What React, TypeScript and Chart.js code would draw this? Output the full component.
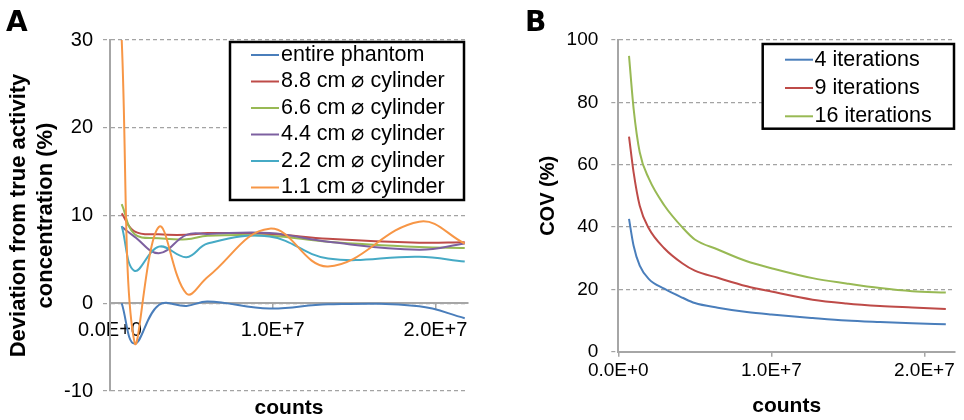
import React, { useEffect, useRef } from 'react';
import { Chart, registerables } from 'chart.js';

Chart.register(...registerables);

const FONT = "'Liberation Sans', Arial, Helvetica, sans-serif";
const LETTER_FONT = "'DejaVu Sans', 'Liberation Sans', Arial, sans-serif";

// ---------- Panel A data ----------
const countsA = [0.072e7, 0.15e7, 0.3e7, 0.47e7, 0.6e7, 0.98e7, 1.34e7, 1.9e7, 2.18e7];
const labelsA = [
  'entire phantom',
  '8.8 cm \u2300 cylinder',
  '6.6 cm \u2300 cylinder',
  '4.4 cm \u2300 cylinder',
  '2.2 cm \u2300 cylinder',
  '1.1 cm \u2300 cylinder',
];
const entirePhantom = [0, -4.6, -0.2, -0.3, 0.2, -0.6, -0.1, -0.35, -1.7];
const cyl88 = [10.25, 8.2, 7.85, 7.8, 8.0, 7.9, 7.35, 6.9, 6.95];
const cyl66 = [11.3, 7.9, 7.4, 7.3, 7.7, 7.7, 7.0, 6.4, 6.3];
const cyl44 = [8.7, 7.6, 5.7, 7.8, 7.9, 8.0, 7.0, 6.1, 6.8];
const cyl22 = [8.8, 3.7, 6.45, 5.25, 6.8, 7.6, 5.1, 5.3, 4.75];
const cyl11 = [30, -4.4, 8.7, 1.1, 3.0, 8.5, 4.2, 9.3, 6.8];
const seriesA = [entirePhantom, cyl88, cyl66, cyl44, cyl22, cyl11];
const colorsA = ['#4A7EBB', '#BE4B48', '#98B954', '#7D60A0', '#46AAC5', '#F79646'];
const yTitleA = ['Deviation from true activity', 'concentration (%)'];

// ---------- Panel B data ----------
const countsB = [0.07e7, 0.1e7, 0.14e7, 0.2e7, 0.3e7, 0.42e7, 0.5e7, 0.65e7, 0.84e7, 1.0e7, 1.27e7, 1.49e7, 1.71e7, 1.92e7, 2.14e7];
const labelsB = ['4 iterations', '9 iterations', '16 iterations'];
const iter4 = [42.6, 34, 27.6, 23.3, 20.2, 17.3, 15.6, 14.1, 12.7, 11.9, 10.8, 10.0, 9.5, 9.1, 8.8];
const iter9 = [69.0, 57.5, 46.8, 39.5, 33.2, 28.3, 26.0, 23.7, 21.0, 19.3, 16.7, 15.5, 14.7, 14.2, 13.7];
const iter16 = [94.9, 78, 64, 55.5, 47, 39.8, 36, 32.8, 29.0, 26.8, 23.6, 21.9, 20.4, 19.4, 19.0];
const seriesB = [iter4, iter9, iter16];
const colorsB = ['#4A7EBB', '#BE4B48', '#98B954'];
const yTitleB = 'COV (%)';

// ---------- shared axis ticks ----------
const xTickValues = [0, 1e7, 2e7];
const xTickLabels = ['0.0E+0', '1.0E+7', '2.0E+7'];
const xTitle = 'counts';

const GRID = '#a3a3a3';
const AXIS = '#a6a6a6';

const boxLegendPlugin = {
  id: 'boxLegend',
  afterDatasetsDraw(chart: any, _args: any, o: any) {
    if (!o || !o.show) return;
    const ctx = chart.ctx;
    ctx.save();
    ctx.fillStyle = '#ffffff';
    ctx.fillRect(o.left, o.top, o.right - o.left, o.bottom - o.top);
    ctx.lineWidth = o.borderWidth;
    ctx.strokeStyle = '#000000';
    ctx.strokeRect(o.left, o.top, o.right - o.left, o.bottom - o.top);
    ctx.font = `${o.fontSize}px ${FONT}`;
    ctx.textBaseline = 'middle';
    ctx.textAlign = 'left';
    chart.data.datasets.forEach((ds: any, i: number) => {
      const y = o.rowTop + i * o.rowPitch;
      ctx.strokeStyle = ds.borderColor;
      ctx.lineWidth = 2;
      ctx.beginPath();
      ctx.moveTo(o.lineX1, y);
      ctx.lineTo(o.lineX2, y);
      ctx.stroke();
      ctx.fillStyle = '#000000';
      ctx.fillText(ds.label, o.textX, y);
    });
    ctx.restore();
  },
};

const textPlugin = {
  id: 'panelText',
  afterDraw(chart: any, _args: any, o: any) {
    if (!o || !o.items) return;
    const ctx = chart.ctx;
    ctx.save();
    o.items.forEach((it: any) => {
      ctx.font = it.font;
      ctx.fillStyle = '#000000';
      ctx.textAlign = it.align || 'left';
      ctx.textBaseline = it.baseline || 'alphabetic';
      ctx.fillText(it.text, it.x, it.y);
    });
    ctx.restore();
  },
};

const xTickCallback = (v: any) => {
  const i = xTickValues.indexOf(Number(v));
  return i >= 0 ? xTickLabels[i] : '';
};

function makeDatasets(series: number[][], counts: number[], labels: string[], colors: string[], mode: string) {
  return series.map((vals, i) => ({
    label: labels[i],
    data: vals.map((v, j) => ({ x: counts[j], y: v })),
    borderColor: colors[i],
    backgroundColor: colors[i],
    borderWidth: 2,
    pointRadius: 0,
    fill: false,
    tension: 0.4,
    cubicInterpolationMode: mode,
    order: -i,
  }));
}

export default function App() {
  const refA = useRef<HTMLCanvasElement>(null);
  const refB = useRef<HTMLCanvasElement>(null);

  useEffect(() => {
    const chartA = new Chart(refA.current as HTMLCanvasElement, {
      type: 'line',
      data: { datasets: makeDatasets(seriesA, countsA, labelsA, colorsA, 'default') as any },
      plugins: [boxLegendPlugin, textPlugin],
      options: {
        animation: false,
        responsive: false,
        events: [],
        layout: { padding: { left: 0, top: 40, right: 12, bottom: 29 } },
        scales: {
          x: {
            type: 'linear',
            min: 0,
            max: 2.2e7,
            position: { y: 0 } as any,
            afterBuildTicks: (s: any) => { s.ticks = xTickValues.map((v) => ({ value: v })); },
            afterFit: (s: any) => { s.height = 0; },
            ticks: { callback: xTickCallback, font: { size: 20, family: FONT }, color: '#000', padding: 10, maxRotation: 0, autoSkip: false },
            grid: { drawOnChartArea: false, drawTicks: true, tickLength: 5, color: AXIS, tickColor: AXIS, lineWidth: 1.5 },
            border: { display: true, color: AXIS, width: 2 },
          },
          y: {
            type: 'linear',
            min: -10,
            max: 30,
            afterFit: (s: any) => { s.width = 110; },
            ticks: { stepSize: 10, font: { size: 20, family: FONT }, color: '#000', padding: 10 },
            grid: { color: GRID, lineWidth: 1.2, tickLength: 7, tickColor: GRID, tickBorderDash: [4, 3] },
            border: { display: true, color: AXIS, width: 2, dash: [4, 3] },
            title: {
              display: true,
              text: yTitleA,
              color: '#000',
              font: { size: 22, weight: 'bold', family: FONT, lineHeight: 1.25 },
              padding: { top: 5, bottom: 0 },
            },
          },
        },
        plugins: {
          legend: { display: false },
          tooltip: { enabled: false },
          boxLegend: {
            show: true,
            left: 230, top: 42, right: 464, bottom: 200,
            borderWidth: 2.5,
            rowTop: 55, rowPitch: 26.5,
            lineX1: 251, lineX2: 279, textX: 281,
            fontSize: 21.5,
          },
          panelText: {
            items: [
              { text: 'A', x: 6, y: 31, font: `bold 28px ${LETTER_FONT}` },
              { text: xTitle, x: 289, y: 408, font: `bold 21px ${FONT}`, align: 'center', baseline: 'middle' },
            ],
          },
        } as any,
      },
    } as any);

    const chartB = new Chart(refB.current as HTMLCanvasElement, {
      type: 'line',
      data: { datasets: makeDatasets(seriesB, countsB, labelsB, colorsB, 'monotone') as any },
      plugins: [boxLegendPlugin, textPlugin],
      options: {
        animation: false,
        responsive: false,
        events: [],
        layout: { padding: { left: 0, top: 40, right: 9, bottom: 0 } },
        scales: {
          x: {
            type: 'linear',
            min: 0,
            max: 2.2e7,
            position: 'bottom',
            afterBuildTicks: (s: any) => { s.ticks = xTickValues.map((v) => ({ value: v })); },
            afterFit: (s: any) => { s.height = 68.3; },
            ticks: { callback: xTickCallback, font: { size: 19, family: FONT }, color: '#000', padding: 3, maxRotation: 0, autoSkip: false },
            grid: { drawOnChartArea: false, drawTicks: true, tickLength: 5, color: AXIS, tickColor: AXIS, lineWidth: 1.5 },
            border: { display: true, color: AXIS, width: 2 },
            title: {
              display: true,
              text: xTitle,
              color: '#000',
              font: { size: 21, weight: 'bold', family: FONT, lineHeight: 1.2 },
              padding: { top: 0, bottom: 1.4 },
            },
          },
          y: {
            type: 'linear',
            min: 0,
            max: 100,
            afterFit: (s: any) => { s.width = 138.3; },
            ticks: { stepSize: 20, font: { size: 19, family: FONT }, color: '#000', padding: 13 },
            grid: { color: GRID, lineWidth: 1.2, tickLength: 7, tickColor: GRID, tickBorderDash: [4, 3] },
            border: { display: true, color: AXIS, width: 2, dash: [4, 3] },
            title: {
              display: true,
              text: yTitleB,
              color: '#000',
              font: { size: 20, weight: 'bold', family: FONT, lineHeight: 1.25 },
              padding: { top: 55.5, bottom: 0 },
            },
          },
        },
        plugins: {
          legend: { display: false },
          tooltip: { enabled: false },
          boxLegend: {
            show: true,
            left: 282.7, top: 44, right: 474, bottom: 128.7,
            borderWidth: 2.5,
            rowTop: 59.7, rowPitch: 28.3,
            lineX1: 305, lineX2: 333, textX: 334.5,
            fontSize: 21.5,
          },
          panelText: {
            items: [
              { text: 'B', x: 45, y: 31, font: `bold 28px ${LETTER_FONT}` },
            ],
          },
        } as any,
      },
    } as any);

    return () => {
      chartA.destroy();
      chartB.destroy();
    };
  }, []);

  return (
    <div style={{ position: 'fixed', left: 0, top: 0, width: 964, height: 420, background: '#ffffff' }}>
      <canvas ref={refA} width={480} height={420} style={{ position: 'absolute', left: 0, top: 0, width: 480, height: 420 }} />
      <canvas ref={refB} width={484} height={420} style={{ position: 'absolute', left: 480, top: 0, width: 484, height: 420 }} />
    </div>
  );
}
